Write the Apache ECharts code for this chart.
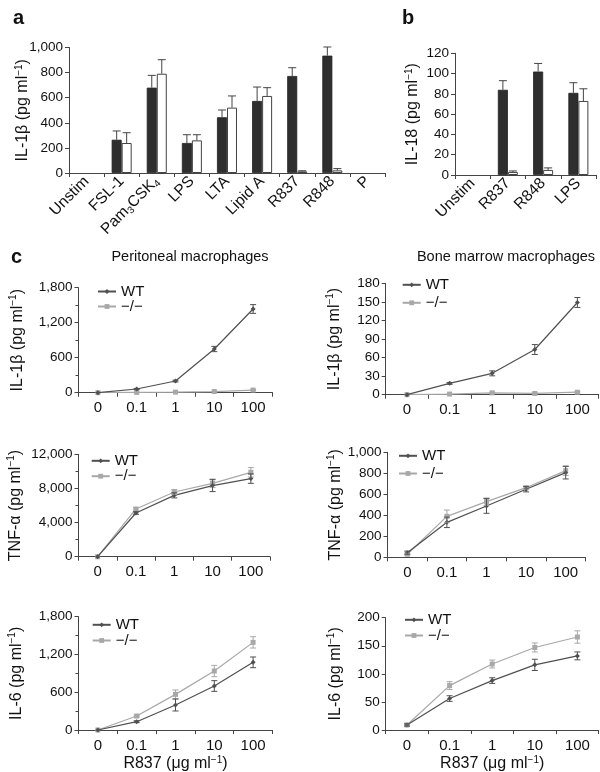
<!DOCTYPE html>
<html><head><meta charset="utf-8">
<script src="https://cdn.jsdelivr.net/npm/echarts@6/dist/echarts.min.js"></script>
<style>html,body{margin:0;padding:0;background:#fff}#c{width:600px;height:772px}</style>
</head><body><div id="c"></div>
<script>
// ---------- Panel a : IL-1beta (bars) ----------
const aCategories = ['Unstim','FSL-1','Pam3CSK4','LPS','LTA','Lipid A','R837','R848','P'];
const aWT    = [0,265,680,239,444,574,773,935,0];
const aWTErr = [0,70,98,66,58,111,66,69,0];
const aKO    = [0,239,791,260,521,614,13,21,0];
const aKOErr = [0,82,112,45,93,66,5,14,0];
const aYTicks = [0,200,400,600,800,1000];

// ---------- Panel b : IL-18 (bars) ----------
const bCategories = ['Unstim','R837','R848','LPS'];
const bWT    = [0,84,102,81];
const bWTErr = [0,9,8,10];
const bKO    = [0,3,5,73];
const bKOErr = [0,1,2,12];
const bYTicks = [0,20,40,60,80,100,120];

// ---------- Panel c : dose responses ----------
const doses = ['0','0.1','1','10','100'];
// Peritoneal IL-1beta
const c1WT = [0,63,200,749,1435];   const c1WTErr = [0,10,15,45,75];
const c1KO = [0,5,10,20,45];        const c1KOErr = [0,4,3,5,8];
const c1YTicks = [0,600,1200,1800];
// Bone marrow IL-1beta
const c2WT = [0,18.3,34.5,73,149];  const c2WTErr = [0,1.5,4,8,8];
const c2KO = [0,1,3,2,4];           const c2KOErr = [0,0.5,1,1,1];
const c2YTicks = [0,30,60,90,120,150,180];
// Peritoneal TNF-alpha
const c3WT = [0,5120,7190,8330,9150];  const c3WTErr = [0,150,300,700,550];
const c3KO = [0,5590,7580,8600,9890];  const c3KOErr = [0,150,300,500,550];
const c3YTicks = [0,4000,8000,12000];
// Bone marrow TNF-alpha
const c4WT = [44,333,489,648,806];  const c4WTErr = [15,50,70,25,60];
const c4KO = [29,390,530,663,825];  const c4KOErr = [10,60,35,15,45];
const c4YTicks = [0,200,400,600,800,1000];
// Peritoneal IL-6
const c5WT = [0,132,397,699,1075];  const c5WTErr = [0,15,95,85,85];
const c5KO = [0,222,566,937,1392];  const c5KOErr = [0,15,70,90,90];
const c5YTicks = [0,600,1200,1800];
// Bone marrow IL-6
const c6WT = [9,56,88,116,132];     const c6WTErr = [2,5,5,10,7];
const c6KO = [9,79,117.5,147,165.6];const c6KOErr = [2,7,7,8,11];
const c6YTicks = [0,50,100,150,200];

const FONT = '"Liberation Sans", Arial, Helvetica, sans-serif';
const AX = '#444';
const WTC = '#505050', KOC = '#a8a8a8';

const chart = echarts.init(document.getElementById('c'), null, {renderer:'canvas'});

const grids = [
  {left:69,   top:47.5,  width:316, height:125.5},   // a
  {left:455,  top:53.3,  width:141, height:121.7},   // b
  {left:78.5, top:287.7, width:194, height:105},     // c1
  {left:385.7,top:283.3, width:213, height:111.4},   // c2
  {left:78.5, top:454.3, width:191.5, height:102.4}, // c3
  {left:387.5,top:452.3, width:198, height:105},     // c4
  {left:78.5, top:616.7, width:194, height:113.3},   // c5
  {left:385.7,top:617.7, width:213, height:112.3}    // c6
].map(g => Object.assign({containLabel:false, outerBoundsMode:'none'}, g));

const supRich = {
  sup: {fontSize: 10, fontFamily: FONT, color:'#111', padding:[0,0,8,0]}
};
function yName(txt){ return txt + ' (pg ml{sup|−1})'; }

function yAxis(gi, ticks, name, gap, minor){
  return {
    type:'value', gridIndex:gi, min:ticks[0], max:ticks[ticks.length-1],
    interval: ticks[1]-ticks[0],
    name: name, nameLocation:'middle', nameGap: gap, nameRotate: 90,
    nameMoveOverlap: false,
    nameTextStyle:{fontSize:16, fontFamily:FONT, color:'#111', rich: supRich},
    axisLine:{show:true, lineStyle:{color:AX, width:1}},
    axisTick:{show:true, length:4, lineStyle:{color:AX}},
    minorTick:{show:!!minor, splitNumber:2, length:3, lineStyle:{color:AX}},
    splitLine:{show:false},
    axisLabel:{fontSize:13.5, fontFamily:FONT, color:'#111', margin:6,
      formatter: v => v.toLocaleString('en-US')}
  };
}
function xCat(gi, cats, opts){
  return Object.assign({
    type:'category', gridIndex:gi, data:cats, boundaryGap:true,
    nameMoveOverlap: false,
    axisLine:{show:true, lineStyle:{color:AX, width:1}},
    axisTick:{show:true, length:4, interval:0, lineStyle:{color:AX}},
    axisLabel:{fontSize:15, fontFamily:FONT, color:'#111', interval:0, margin:8}
  }, opts||{});
}

const rotLabel = {
  fontSize:15.5, fontFamily:FONT, color:'#111', interval:0, rotate:45, margin:6,
  formatter: v => v === 'Pam3CSK4' ? '{n|Pam}{s|3}{n|CSK}{s|4}' : v,
  rich:{ n:{fontSize:15.5, fontFamily:FONT, color:'#111'},
         s:{fontSize:10, fontFamily:FONT, color:'#111', padding:[8,0,0,0]} }
};

const xAxes = [
  xCat(0, aCategories, {axisLabel: rotLabel}),
  xCat(1, bCategories, {axisLabel: rotLabel}),
  xCat(2, doses), xCat(3, doses), xCat(4, doses), xCat(5, doses),
  xCat(6, doses, {name:'R837 (μg ml{sup|−1})', nameLocation:'middle', nameGap:25,
    nameTextStyle:{fontSize:16, fontFamily:FONT, color:'#111', rich:supRich}}),
  xCat(7, doses, {name:'R837 (μg ml{sup|−1})', nameLocation:'middle', nameGap:25,
    nameTextStyle:{fontSize:16, fontFamily:FONT, color:'#111', rich:supRich}})
];
const yAxes = [
  yAxis(0, aYTicks, yName('IL-1β'), 37),
  yAxis(1, bYTicks, yName('IL-18'), 33),
  yAxis(2, c1YTicks, yName('IL-1β'), 52, true),
  yAxis(3, c2YTicks, yName('IL-1β'), 42),
  yAxis(4, c3YTicks, yName('TNF-α'), 54, true),
  yAxis(5, c4YTicks, yName('TNF-α'), 43),
  yAxis(6, c5YTicks, yName('IL-6'), 53, true),
  yAxis(7, c6YTicks, yName('IL-6'), 41)
];

function errRender(color, capHalf, upOnly, offset){
  return function(params, api){
    const i = api.value(0), v = api.value(1), e = api.value(2);
    if (!e) return null;
    const p0 = api.coord([i, upOnly ? v : v - e]);
    const p1 = api.coord([i, v + e]);
    const x = p0[0] + offset;
    const st = {stroke:color, lineWidth:1};
    const ch = [
      {type:'line', shape:{x1:x, y1:p0[1], x2:x, y2:p1[1]}, style:st},
      {type:'line', shape:{x1:x-capHalf, y1:p1[1], x2:x+capHalf, y2:p1[1]}, style:st}
    ];
    if (!upOnly) ch.push({type:'line', shape:{x1:x-capHalf, y1:p0[1], x2:x+capHalf, y2:p0[1]}, style:st});
    return {type:'group', children:ch};
  };
}
function errSeries(gi, vals, errs, color, capHalf, upOnly, offset){
  return {
    type:'custom', xAxisIndex:gi, yAxisIndex:gi, silent:true, z:5,
    renderItem: errRender(color, capHalf, upOnly, offset),
    encode:{x:0, y:1},
    data: vals.map((v,i)=>[i, v, errs[i]])
  };
}

// zero-valued bars are not drawn (no outline), as in the reference
function barData(vals){
  return vals.map(v => v === 0 ? {value:0, itemStyle:{borderWidth:0, opacity:0}} : v);
}

const series = [];
function barPanel(gi, wt, wtE, ko, koE){
  series.push({type:'bar', name:'bar WT '+gi, xAxisIndex:gi, yAxisIndex:gi, data:barData(wt),
    barWidth:10, barGap:'0%', itemStyle:{color:'#2e2e2e', borderColor:'#222', borderWidth:0.8}});
  series.push({type:'bar', name:'bar KO '+gi, xAxisIndex:gi, yAxisIndex:gi, data:barData(ko),
    barWidth:10, barGap:'0%', itemStyle:{color:'#ffffff', borderColor:'#444', borderWidth:1}});
  series.push(errSeries(gi, wt, wtE, '#444', 4, true, -5));
  series.push(errSeries(gi, ko, koE, '#444', 4, true, 5));
}
barPanel(0, aWT, aWTErr, aKO, aKOErr);
barPanel(1, bWT, bWTErr, bKO, bKOErr);

function linePanel(gi, wt, wtE, ko, koE){
  series.push({type:'line', name:'WT', xAxisIndex:gi, yAxisIndex:gi, data:wt,
    symbol:'diamond', symbolSize:5, color:WTC, lineStyle:{color:WTC, width:1.2},
    itemStyle:{color:WTC}, z:3});
  series.push({type:'line', name:'−/−', xAxisIndex:gi, yAxisIndex:gi, data:ko,
    symbol:'rect', symbolSize:5, color:KOC, lineStyle:{color:KOC, width:1.2},
    itemStyle:{color:KOC}, z:2});
  series.push(errSeries(gi, ko, koE, KOC, 3, false, 0));
  series.push(errSeries(gi, wt, wtE, WTC, 3, false, 0));
}
linePanel(2, c1WT, c1WTErr, c1KO, c1KOErr);
linePanel(3, c2WT, c2WTErr, c2KO, c2KOErr);
linePanel(4, c3WT, c3WTErr, c3KO, c3KOErr);
linePanel(5, c4WT, c4WTErr, c4KO, c4KOErr);
linePanel(6, c5WT, c5WTErr, c5KO, c5KOErr);
linePanel(7, c6WT, c6WTErr, c6KO, c6KOErr);

function legend(left, top, gap){
  return {orient:'vertical', left:left, top:top, itemGap:gap, padding:0,
    itemWidth:18, itemHeight:6, selectedMode:false,
    data:['WT','−/−'],
    textStyle:{fontSize:15, fontFamily:FONT, color:'#111', lineHeight:12}};
}

const option = {
  animation:false,
  backgroundColor:'#fff',
  grid: grids,
  xAxis: xAxes,
  yAxis: yAxes,
  series: series,
  legend: [
    legend(97, 284, 0),
    legend(401.7, 277.3, 3),
    legend(90.7, 453.3, 0.4),
    legend(398, 448.3, 2.7),
    legend(91.7, 617.3, 0.7),
    legend(404, 612.3, 0.7)
  ],
  title: [
    {text:'a', left:8, top:3, textStyle:{fontSize:20, fontWeight:'bold', fontFamily:FONT, color:'#111'}},
    {text:'b', left:397, top:3, textStyle:{fontSize:20, fontWeight:'bold', fontFamily:FONT, color:'#111'}},
    {text:'c', left:6, top:242, textStyle:{fontSize:20, fontWeight:'bold', fontFamily:FONT, color:'#111'}},
    {text:'Peritoneal macrophages', left:185, top:244, textAlign:'center',
      textStyle:{fontSize:14.5, fontWeight:'normal', fontFamily:FONT, color:'#111'}},
    {text:'Bone marrow macrophages', left:501, top:244, textAlign:'center',
      textStyle:{fontSize:14.5, fontWeight:'normal', fontFamily:FONT, color:'#111'}}
  ]
};
chart.setOption(option);
</script>
</body></html>
